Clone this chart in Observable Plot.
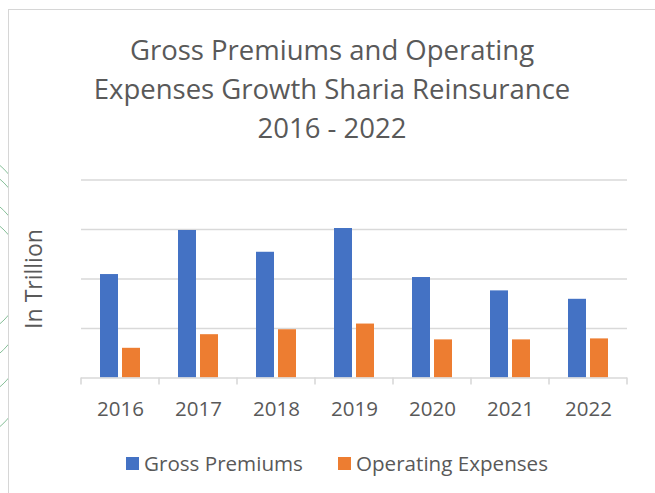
<!DOCTYPE html>
<html>
<head>
<meta charset="utf-8">
<script src="https://cdn.jsdelivr.net/npm/d3@7"></script>
<script src="https://cdn.jsdelivr.net/npm/@observablehq/plot@0.6"></script>
<style>
  html, body { margin: 0; padding: 0; background: #ffffff; }
  #root { position: relative; width: 655px; height: 493px; overflow: hidden; font-family: "Open Sans", sans-serif; color: #595959; }
  #border { position: absolute; left: 8px; top: 9px; width: 800px; height: 800px; border: 1px solid #d6d6d6; box-sizing: border-box; }
  #deco { position: absolute; left: 0; top: 0; width: 8px; height: 493px; overflow: hidden; }
  .arc { position: absolute; border: 1.2px solid #86bf98; border-radius: 50%; box-sizing: border-box; }
  #title { position: absolute; left: 0; width: 664px; top: 30px; text-align: center; font-size: 27.5px; line-height: 39px; color: #595959; }
  #ylabel { position: absolute; left: 33px; top: 279px; transform: translate(-50%, -50%) rotate(-90deg); font-size: 23px; white-space: nowrap; color: #595959; }
  #chart { position: absolute; left: 0; top: 0; }
  #legend { position: absolute; top: 449px; left: 0; width: 655px; height: 28px; }
  .item { position: absolute; top: 0; display: flex; align-items: center; height: 28px; font-size: 20.6px; color: #595959; white-space: nowrap; }
  .sw { width: 13px; height: 13px; margin-right: 5px; }
</style>
</head>
<body>
<div id="root">
  <div id="deco"></div>
  <div id="border"></div>
  <div id="title">Gross Premiums and Operating<br>Expenses Growth Sharia Reinsurance<br>2016 - 2022</div>
  <div id="chart"></div>
  <div id="ylabel">In Trillion</div>
  <div id="legend"></div>
</div>
<script>
const years = ["2016", "2017", "2018", "2019", "2020", "2021", "2022"];
const grossPremiums = [2.09, 2.98, 2.54, 3.02, 2.03, 1.76, 1.59];
const operatingExpenses = [0.60, 0.875, 0.975, 1.09, 0.77, 0.77, 0.79];
const seriesNames = ["Gross Premiums", "Operating Expenses"];
const seriesColors = ["#4472C4", "#ED7D31"];
const gridTicks = [1, 2, 3, 4];

const data = [];
years.forEach((y, i) => {
  data.push({year: y, series: seriesNames[0], value: grossPremiums[i]});
  data.push({year: y, series: seriesNames[1], value: operatingExpenses[i]});
});

// decorative arcs on the slide background (left edge)
const arcs = [
  {cx: -123.5, cy: 295.5, r: 180},
  {cx: -96.5, cy: 282.5, r: 142},
  {cx: -66, cy: 280, r: 99},
  {cx: -41, cy: 275, r: 63.6}
];
const deco = document.getElementById("deco");
arcs.forEach(a => {
  const d = document.createElement("div");
  d.className = "arc";
  d.style.left = (a.cx - a.r) + "px";
  d.style.top = (a.cy - a.r) + "px";
  d.style.width = (2 * a.r) + "px";
  d.style.height = (2 * a.r) + "px";
  deco.appendChild(d);
});

const plot = Plot.plot({
  width: 655,
  height: 493,
  marginLeft: 78,
  marginRight: 25,
  marginTop: 179.5,
  marginBottom: 115.5,
  fx: {domain: years, padding: 0, label: null},
  x: {domain: seriesNames, paddingInner: 0.2, paddingOuter: 0.85, axis: null},
  y: {domain: [0, 4], axis: null},
  color: {domain: seriesNames, range: seriesColors},
  style: {fontFamily: "Open Sans, sans-serif", fontSize: "20.5px", color: "#595959", background: "transparent", overflow: "visible"},
  marks: [
    Plot.gridY(gridTicks, {stroke: "#d9d9d9", strokeOpacity: 1, strokeWidth: 1.4}),
    Plot.barY(data, {fx: "year", x: "series", y: "value", fill: "series"}),
    Plot.ruleY([0], {stroke: "#d9d9d9", strokeWidth: 1.6}),
    Plot.axisFx({anchor: "bottom", tickSize: 0, tickPadding: 23, label: null, fontSize: 20.5, fill: "#595959"})
  ]
});
document.getElementById("chart").appendChild(plot);

// tick marks at category boundaries, from the fx band scale
const fx = plot.scale("fx");
const yScale = plot.scale("y");
const y0 = yScale.apply(0);
const bounds = years.map(y => fx.apply(y));
bounds.push(fx.apply(years[years.length - 1]) + fx.bandwidth);
d3.select(plot).append("g")
  .attr("stroke", "#d9d9d9").attr("stroke-width", 1.6)
  .selectAll("line").data(bounds).join("line")
  .attr("x1", d => d).attr("x2", d => d)
  .attr("y1", y0).attr("y2", y0 + 7);

// legend
const legendPos = [126, 338];
const legend = document.getElementById("legend");
seriesNames.forEach((s, i) => {
  const it = document.createElement("div");
  it.className = "item";
  it.style.left = legendPos[i] + "px";
  const sw = document.createElement("div");
  sw.className = "sw";
  sw.style.background = seriesColors[i];
  it.appendChild(sw);
  const t = document.createElement("span");
  t.textContent = s;
  it.appendChild(t);
  legend.appendChild(it);
});
</script>
</body>
</html>
